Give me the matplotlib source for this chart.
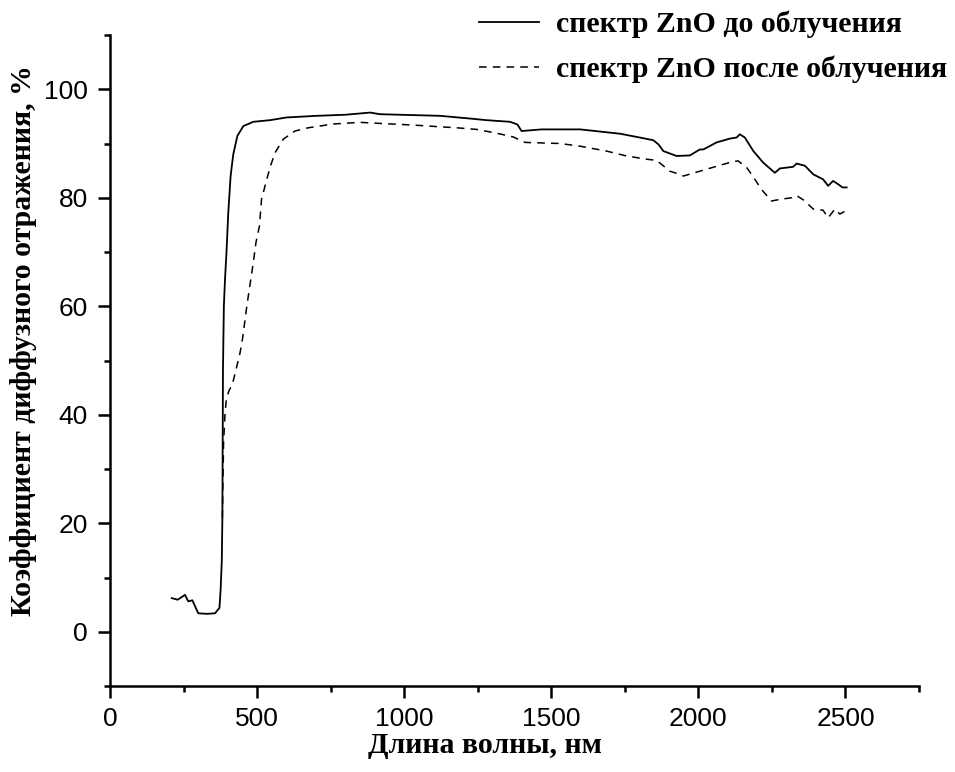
import matplotlib
matplotlib.use("Agg")
import matplotlib.pyplot as plt
from matplotlib.ticker import MultipleLocator

# Wavelength (nm) and diffuse reflectance (%) - before irradiation
wl_before = [210, 230, 255, 266, 280, 300, 330, 357, 372, 376, 380, 382, 384, 387,
             391, 396, 402, 410, 419, 433, 453, 487, 544, 600, 702, 800, 884, 918,
             986, 1122, 1224, 1280, 1360, 1385, 1399, 1467, 1598, 1666, 1734, 1801,
             1847, 1865, 1881, 1926, 1971, 2005, 2017, 2062, 2107, 2130, 2141, 2158,
             2187, 2220, 2260, 2277, 2322, 2334, 2362, 2391, 2424, 2441, 2458, 2475,
             2490, 2504]
r_before = [6.2, 5.9, 6.8, 5.6, 5.8, 3.4, 3.3, 3.4, 4.4, 7.7, 13, 21, 48, 60,
            65, 70, 77.2, 84, 88, 91.4, 93.2, 94.0, 94.3, 94.8, 95.1, 95.3, 95.7, 95.4,
            95.3, 95.1, 94.6, 94.3, 94.0, 93.5, 92.3, 92.6, 92.6, 92.2, 91.8, 91.1,
            90.6, 89.8, 88.6, 87.7, 87.8, 88.9, 88.9, 90.2, 90.9, 91.1, 91.7, 91.1,
            88.6, 86.5, 84.6, 85.4, 85.7, 86.3, 85.9, 84.3, 83.4, 82.2, 83.1, 82.5,
            81.9, 81.9]

# After irradiation
wl_after = [382, 386, 391, 396, 405, 416, 430, 442, 451, 465, 476, 487, 496, 508,
            515, 530, 544, 561, 589, 629, 674, 760, 850, 918, 1031, 1116, 1178, 1246,
            1314, 1371, 1411, 1530, 1598, 1688, 1756, 1824, 1858, 1903, 1937, 1949,
            2005, 2062, 2113, 2135, 2164, 2192, 2215, 2249, 2277, 2317, 2334, 2357,
            2391, 2424, 2441, 2464, 2481, 2498]
r_after = [21, 34.8, 40.3, 43.1, 44.5, 45.6, 48.7, 51.4, 54.2, 60, 64, 68, 71.7, 74.8,
           79.7, 82.8, 85.6, 88.3, 90.8, 92.3, 92.9, 93.6, 93.9, 93.7, 93.4, 93.1, 92.9, 92.6,
           91.9, 91.2, 90.2, 90.0, 89.5, 88.6, 87.7, 87.1, 86.9, 84.9, 84.3, 84.0,
           84.9, 85.8, 86.6, 86.8, 85.6, 83.4, 81.5, 79.4, 79.7, 80.0, 80.4, 79.6,
           77.9, 77.7, 76.3, 77.9, 77.0, 77.5]

label_before = "спектр ZnO до облучения"
label_after = "спектр ZnO после облучения"
xlabel = "Длина волны, нм"
ylabel = "Коэффициент диффузного отражения, %"

W, H = 955, 772
fig = plt.figure(figsize=(W / 100, H / 100), dpi=100)
ax = fig.add_axes([110 / W, 1 - 686 / H, (919 - 110) / W, (686 - 35) / H])

l1, = ax.plot(wl_before, r_before, color="black", lw=1.3, label=label_before)
l2, = ax.plot(wl_after, r_after, color="black", lw=1.1, linestyle=(0, (5, 4)),
              label=label_after)

ax.set_xlim(0, 2750)
ax.set_ylim(-10, 110)
ax.xaxis.set_major_locator(MultipleLocator(500))
ax.xaxis.set_minor_locator(MultipleLocator(250))
ax.set_yticks([0, 20, 40, 60, 80, 100])
ax.yaxis.set_minor_locator(MultipleLocator(10))

for s in ["top", "right"]:
    ax.spines[s].set_visible(False)
for s in ["left", "bottom"]:
    ax.spines[s].set_linewidth(1.8)

ax.tick_params(which="major", direction="out", length=8.5, width=1.8,
               labelsize=19)
ax.tick_params(axis="y", which="major", pad=7.5)
ax.tick_params(axis="x", which="major", pad=6.5)
ax.tick_params(which="minor", direction="out", length=4.5, width=1.8)
for lab in ax.get_xticklabels() + ax.get_yticklabels():
    lab.set_fontfamily("Liberation Sans")

serif = {"family": "Liberation Serif", "weight": "bold", "size": 21.5}
ax.set_xlabel(xlabel, fontdict=serif)
ax.set_ylabel(ylabel, fontdict=serif)
ax.xaxis.set_label_coords((485 - 110) / 809, (686 - 732) / 651)
ax.yaxis.set_label_coords((37 - 110) / 809, (686 - 341) / 651)

leg = ax.legend(handles=[l1, l2], loc="upper left",
                bbox_to_anchor=(479 / W, 1 - 11 / H), bbox_transform=fig.transFigure,
                frameon=False, prop={"family": "Liberation Serif", "weight": "bold", "size": 21.5},
                handlelength=2.0, handletextpad=0.57, labelspacing=0.57, borderaxespad=0,
                borderpad=0)

fig.savefig("out.png", dpi=100)
